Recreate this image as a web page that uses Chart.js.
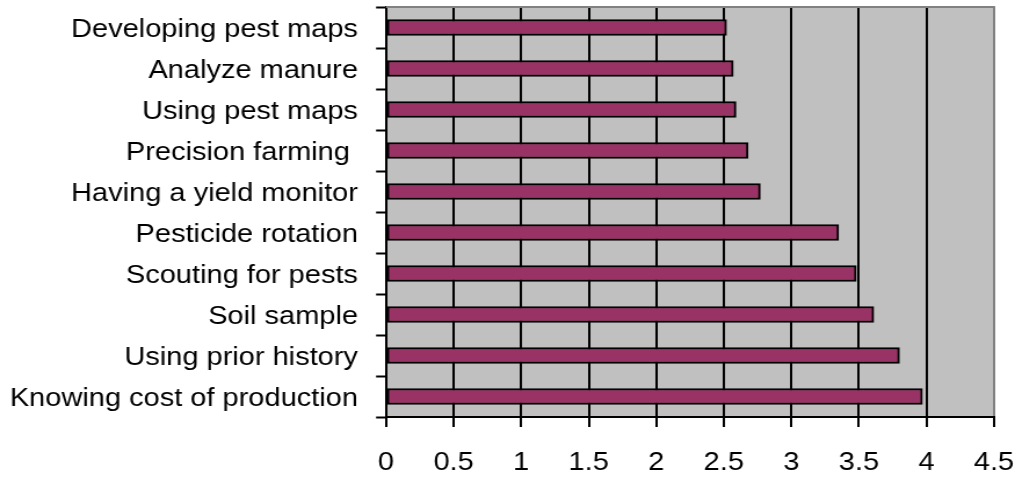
<!DOCTYPE html>
<html>
<head>
<meta charset="utf-8">
<script src="https://cdn.jsdelivr.net/npm/chart.js@4/dist/chart.umd.min.js"></script>
<style>
  html, body { margin: 0; padding: 0; background: #ffffff; overflow: hidden; }
  /* the chart is drawn narrower and widened horizontally, giving the broad lettering */
  #wrap { width: 880px; height: 480px; transform: scaleX(1.16); transform-origin: 0 0; }
  #c { display: block; }
</style>
</head>
<body>
<div id="wrap"><canvas id="c" width="880" height="480"></canvas></div>
<script>
// Practices, listed top to bottom
const practices = [
  "Developing pest maps",
  "Analyze manure",
  "Using pest maps",
  "Precision farming ",
  "Having a yield monitor",
  "Pesticide rotation",
  "Scouting for pests",
  "Soil sample",
  "Using prior history",
  "Knowing cost of production"
];

// Mean rating for each practice
const ratings = [2.52, 2.57, 2.59, 2.68, 2.77, 3.35, 3.48, 3.61, 3.80, 3.97];

// Value axis range
const axisMin = 0;
const axisMax = 4.5;
const axisStep = 0.5;

const labelFont = { family: "'Liberation Sans', Arial, sans-serif", size: 25 };

// Grey plot background plus grey top edge
const plotFrame = {
  id: 'plotFrame',
  beforeDraw(chart) {
    const { ctx, chartArea: a } = chart;
    ctx.save();
    ctx.fillStyle = '#C0C0C0';
    ctx.fillRect(a.left, a.top, a.right - a.left, a.bottom - a.top);
    ctx.restore();
  },
  afterDatasetsDraw(chart) {
    const { ctx, chartArea: a } = chart;
    ctx.save();
    ctx.strokeStyle = '#808080';
    ctx.lineWidth = 2;
    ctx.beginPath();
    ctx.moveTo(a.left, a.top);
    ctx.lineTo(a.right + 1, a.top);
    ctx.stroke();
    ctx.restore();
  }
};

function noEdgePadding(scale) {
  scale.paddingTop = 0;
  scale.paddingBottom = 0;
  scale.paddingLeft = 0;
  scale.paddingRight = 0;
}

new Chart(document.getElementById('c'), {
  type: 'bar',
  data: {
    labels: practices,
    datasets: [{
      data: ratings,
      backgroundColor: '#993366',
      borderColor: '#000000',
      borderWidth: 2,
      borderSkipped: false,
      barThickness: 16
    }]
  },
  options: {
    indexAxis: 'y',
    responsive: false,
    animation: false,
    events: [],
    layout: { padding: { top: 7, right: 23.1, left: 0, bottom: 0 } },
    plugins: {
      legend: { display: false },
      tooltip: { enabled: false },
      title: { display: false }
    },
    scales: {
      x: {
        type: 'linear',
        min: axisMin,
        max: axisMax,
        ticks: {
          stepSize: axisStep,
          color: '#000000',
          font: labelFont,
          padding: 21,
          maxRotation: 0,
          callback: (v) => String(v)
        },
        grid: {
          color: (ctx) => (ctx.index === 9 ? '#808080' : '#000000'),
          lineWidth: 2,
          drawTicks: true,
          tickLength: 10,
          tickColor: '#000000',
          tickWidth: 2
        },
        border: { display: true, color: '#000000', width: 2 },
        afterFit(scale) { scale.height = 63; noEdgePadding(scale); }
      },
      y: {
        ticks: {
          color: '#000000',
          font: labelFont,
          padding: 15.6,
          labelOffset: 3,
          autoSkip: false
        },
        grid: {
          drawOnChartArea: false,
          drawTicks: true,
          tickLength: 8.6,
          tickColor: '#000000',
          tickWidth: 2
        },
        border: { display: true, color: '#000000', width: 2 },
        afterFit(scale) { scale.width = 332.8; noEdgePadding(scale); }
      }
    }
  },
  plugins: [plotFrame]
});
</script>
</body>
</html>
